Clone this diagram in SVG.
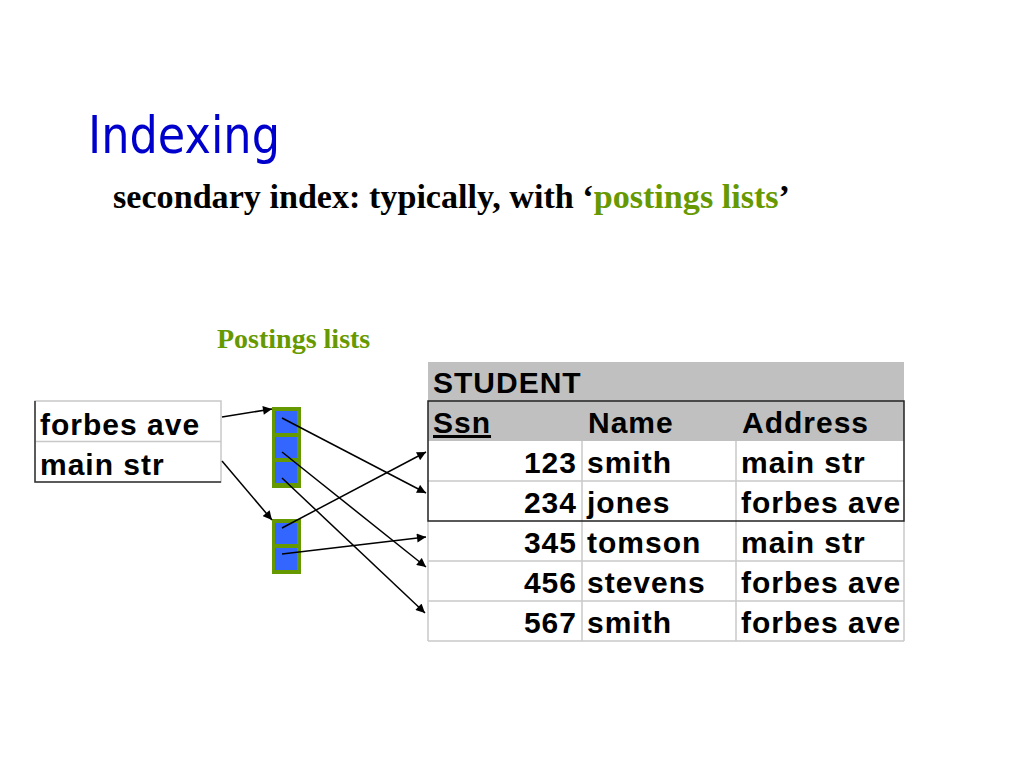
<svg xmlns="http://www.w3.org/2000/svg" width="1024" height="768" viewBox="0 0 1024 768">
<defs>
<style>
.t{font-family:"Liberation Sans",Arial,sans-serif;font-weight:bold;font-size:30px;letter-spacing:1px;fill:#000}
.r{text-anchor:end}
.grid{stroke:#c8c8c8;stroke-width:1.5;fill:none}
.conn{stroke:#000;stroke-width:1.5;fill:none;marker-end:url(#ah)}
.cell{fill:#3366ff}
.pl{fill:#669900}
</style>
<marker id="ah" viewBox="0 0 10 10" refX="10" refY="5" markerWidth="10" markerHeight="9" markerUnits="userSpaceOnUse" orient="auto">
<path d="M0,0 L10,5 L0,10 z" fill="#000"/>
</marker>
</defs>
<rect width="1024" height="768" fill="#fff"/>
<g id="title">
<text x="88" y="153" font-family="'DejaVu Sans',Tahoma,sans-serif" font-size="52" fill="#0000cc" textLength="192" lengthAdjust="spacingAndGlyphs">Indexing</text>
</g>
<g id="subtitle">
<text x="113" y="208" font-family="'Liberation Serif','Times New Roman',serif" font-weight="bold" font-size="33" fill="#000" textLength="677" lengthAdjust="spacingAndGlyphs">secondary index: typically, with ‘<tspan fill="#669900">postings lists</tspan>’</text>
</g>
<g id="postings-label">
<text x="217" y="348" font-family="'Liberation Serif','Times New Roman',serif" font-weight="bold" font-size="28" fill="#669900">Postings lists</text>
</g>
<g id="index-table">
<rect x="35" y="401" width="186" height="81" fill="#fff" stroke="#c8c8c8" stroke-width="1.5"/>
<line x1="35" y1="441.5" x2="221" y2="441.5" class="grid"/>
<path d="M35,401 V482 H221" stroke="#333" stroke-width="1.5" fill="none"/>
<text class="t" x="40" y="435">forbes ave</text>
<text class="t" x="40" y="475">main str</text>
</g>
<g id="postings-1">
<rect x="272" y="407" width="29" height="81" class="pl"/>
<rect x="275" y="411" width="22" height="22" class="cell"/>
<rect x="275" y="437" width="22" height="21" class="cell"/>
<rect x="275" y="462" width="22" height="21" class="cell"/>
</g>
<g id="postings-2">
<rect x="272" y="519" width="29" height="55" class="pl"/>
<rect x="275" y="523" width="22" height="21" class="cell"/>
<rect x="275" y="548" width="22" height="22" class="cell"/>
</g>
<g id="student-table">
<rect x="428" y="362" width="476" height="79" fill="#c0c0c0"/>
<rect x="428" y="441" width="476" height="200" fill="#fff"/>
<g class="grid">
<line x1="428" y1="481" x2="904" y2="481"/>
<line x1="428" y1="561" x2="904" y2="561"/>
<line x1="428" y1="601" x2="904" y2="601"/>
<line x1="428" y1="641" x2="904" y2="641"/>
<line x1="428" y1="521" x2="428" y2="641"/>
<line x1="904" y1="521" x2="904" y2="641"/>
<line x1="582" y1="441" x2="582" y2="641"/>
<line x1="736" y1="441" x2="736" y2="641"/>
</g>
<rect x="428" y="401" width="476" height="120" fill="none" stroke="#222" stroke-width="1.5"/>
<text class="t" x="433" y="393">STUDENT</text>
<text class="t" x="433" y="433" text-decoration="underline">Ssn</text>
<text class="t" x="588" y="433">Name</text>
<text class="t" x="742" y="433">Address</text>
<text class="t r" x="577" y="473">123</text>
<text class="t" x="587" y="473">smith</text>
<text class="t" x="741" y="473">main str</text>
<text class="t r" x="577" y="513">234</text>
<text class="t" x="587" y="513">jones</text>
<text class="t" x="741" y="513">forbes ave</text>
<text class="t r" x="577" y="553">345</text>
<text class="t" x="587" y="553">tomson</text>
<text class="t" x="741" y="553">main str</text>
<text class="t r" x="577" y="593">456</text>
<text class="t" x="587" y="593">stevens</text>
<text class="t" x="741" y="593">forbes ave</text>
<text class="t r" x="577" y="633">567</text>
<text class="t" x="587" y="633">smith</text>
<text class="t" x="741" y="633">forbes ave</text>
</g>
<g id="connectors">
<line class="conn" x1="222" y1="417" x2="272" y2="409"/>
<line class="conn" x1="222" y1="461" x2="272" y2="520"/>
<line class="conn" x1="282" y1="418" x2="426" y2="493"/>
<line class="conn" x1="282" y1="452" x2="426" y2="567"/>
<line class="conn" x1="282" y1="478" x2="425" y2="613"/>
<line class="conn" x1="282" y1="528" x2="426" y2="452"/>
<line class="conn" x1="282" y1="554" x2="426" y2="537"/>
</g>
</svg>
